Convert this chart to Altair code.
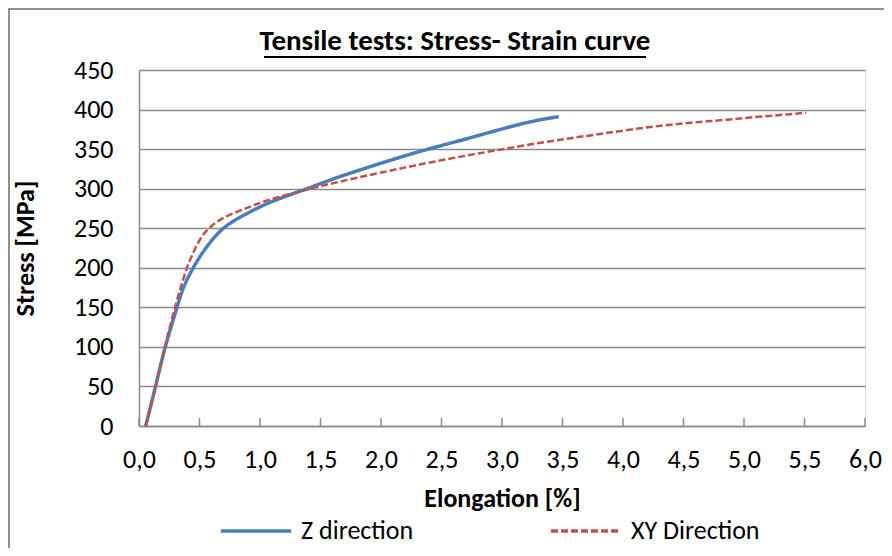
import altair as alt
import pandas as pd

# ---- data ----
z_strain = [0.055, 0.138, 0.213, 0.315, 0.364, 0.447, 0.502, 0.558, 0.682, 0.834,
            0.972, 1.109, 1.413, 1.606, 2.158, 2.434, 2.71, 2.986, 3.262, 3.469]
z_stress = [0, 50, 100, 150, 176, 200, 214, 226.5, 250, 264,
            275, 285, 301, 313, 340, 352, 363, 375, 386, 391]

xy_strain = [0.055, 0.138, 0.213, 0.296, 0.392, 0.434, 0.502, 0.571, 0.695, 0.834,
             0.944, 1.109, 1.44, 1.744, 2.02, 2.268, 2.531, 2.787, 3.046, 3.311,
             3.571, 3.806, 4.07, 4.333, 4.595, 4.857, 5.119, 5.381, 5.513]
xy_stress = [0, 50, 100, 150, 200, 214, 237, 250, 264, 272,
             279, 288, 301, 312, 321, 329, 337, 344, 351, 358,
             364, 369, 375, 380, 384, 387, 391, 394, 396]

series_names = ["Z direction", "XY Direction"]
chart_title = "Tensile tests: Stress- Strain curve"
x_ticks = [0.0, 0.5, 1.0, 1.5, 2.0, 2.5, 3.0, 3.5, 4.0, 4.5, 5.0, 5.5, 6.0]
y_ticks = [0, 50, 100, 150, 200, 250, 300, 350, 400, 450]

FONT = "Carlito, Lato, Open Sans, sans-serif"
FS = 26
W, H = 726, 356
GRID = "#8a8a8a"

df_z = pd.DataFrame({"strain": z_strain, "stress": z_stress, "series": series_names[0]})
df_xy = pd.DataFrame({"strain": xy_strain, "stress": xy_stress, "series": series_names[1]})
df_ticks = pd.DataFrame({"t": x_ticks})
df_title = pd.DataFrame({"label": [chart_title]})

xscale = alt.Scale(domain=[0, 6], nice=False, zero=False)
yscale = alt.Scale(domain=[0, 450], nice=False)

color = alt.Color(
    "series:N",
    scale=alt.Scale(domain=series_names, range=["#4A7EBB", "#C0504D"]),
    title=None,
    legend=alt.Legend(
        orient="none", legendX=80, legendY=424, direction="horizontal",
        symbolType="stroke", symbolSize=4900, symbolStrokeWidth=3.5,
        labelFontSize=FS, labelFont=FONT, labelOffset=8, columnPadding=130,
        labelColor="#000000",
    ),
)
dash = alt.StrokeDash(
    "series:N",
    scale=alt.Scale(domain=series_names, range=[[1, 0], [7, 3]]),
    title=None,
)

x_enc = alt.X(
    "strain:Q", scale=xscale,
    axis=alt.Axis(
        values=x_ticks, grid=False, ticks=False, domain=True, domainColor=GRID,
        domainWidth=1.5, labelFlush=False,
        labelExpr="replace(format(datum.value, '.1f'), '.', ',')",
        labelFontSize=FS, labelFont=FONT, labelPadding=20, labelColor="#000000",
        title="Elongation [%]", titleFont=FONT, titleFontSize=FS,
        titleFontWeight="bold", titleX=363, titleY=72, titleBaseline="middle",
        titleColor="#000000",
    ),
)
y_enc = alt.Y(
    "stress:Q", scale=yscale,
    axis=alt.Axis(
        values=y_ticks, grid=True, gridColor=GRID, gridWidth=1.5,
        ticks=False, domain=True, domainColor=GRID, domainWidth=1.5,
        labelFontSize=FS, labelFont=FONT, labelPadding=26, labelColor="#000000",
        title="Stress [MPa]", titleFont=FONT, titleFontSize=FS,
        titleFontWeight="bold", titleX=-114, titleY=178, titleAngle=-90,
        titleAlign="center", titleBaseline="middle", titleColor="#000000",
    ),
)

line_z = alt.Chart(df_z).mark_line(strokeWidth=3.5, interpolate="basis").encode(
    x=x_enc, y=y_enc, color=color, strokeDash=dash
)
line_xy = alt.Chart(df_xy).mark_line(strokeWidth=2.5, interpolate="basis").encode(
    x=x_enc, y=y_enc, color=color, strokeDash=dash
)

ticks = alt.Chart(df_ticks).mark_rule(color=GRID, strokeWidth=1.5).encode(
    x=alt.X("t:Q", scale=xscale),
    y=alt.value(H - 8), y2=alt.value(H),
)

# chart title (underlined) as text
title_text = alt.Chart(df_title).mark_text(
    font=FONT, fontSize=29, fontWeight="bold", color="#000000",
    align="center", baseline="alphabetic",
).encode(text="label:N", x=alt.value(316), y=alt.value(-20))

underline = alt.Chart(df_title).mark_rule(color="#000000", strokeWidth=2).encode(
    x=alt.value(125), x2=alt.value(507), y=alt.value(-13)
)

# outer chart frame
frame = alt.Chart(df_title).mark_rect(fill=None, stroke="#909090", strokeWidth=2).encode(
    x=alt.value(-130), x2=alt.value(760), y=alt.value(-61), y2=alt.value(486)
)

chart = alt.layer(frame, ticks, line_z, line_xy, title_text, underline).properties(
    width=W, height=H,
    autosize=alt.AutoSizeParams(type="none"),
    padding={"left": 131, "top": 62, "right": 19, "bottom": 122},
).configure_view(stroke=None).configure(background="white")

chart.save("out.html", embed_options={"renderer": "svg", "actions": False})
